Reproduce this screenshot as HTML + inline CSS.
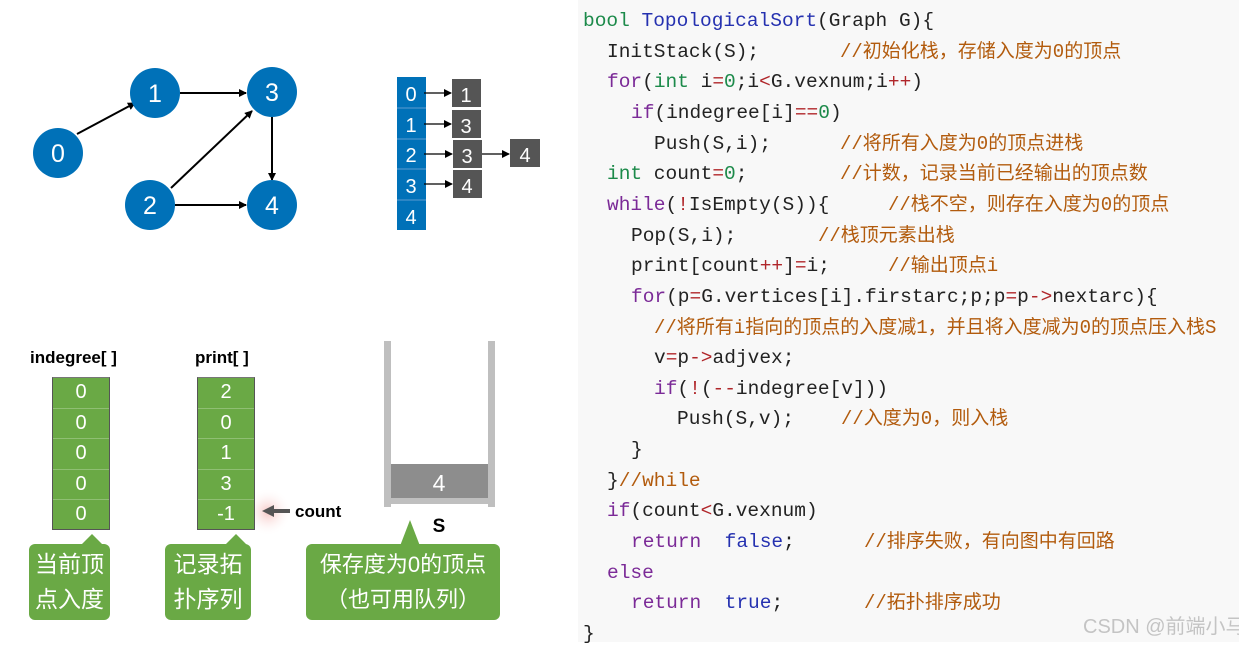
<!DOCTYPE html>
<html><head><meta charset="utf-8"><style>
body{margin:0;width:1239px;height:642px;background:#fff;position:relative;overflow:hidden;font-family:"Liberation Sans","Noto Sans CJK SC",sans-serif}
.code{position:absolute;left:578px;top:0;width:661px;height:642px;background:#f8f8f8}
.l{position:absolute;white-space:pre;font-family:"Liberation Mono","Noto Sans CJK SC",monospace;font-size:19.5px;line-height:22px;color:#222}
.k{color:#7b2a97}.t{color:#1c8a4a}.n{color:#1c8a4a}.o{color:#b0262a}.f{color:#2531b0}.c{color:#b25b0d}
.abs{position:absolute}
.cell{position:absolute;color:#fff;text-align:center;font-size:20px}
.g{background:#6aa945}
.cal{position:absolute;background:#6aa945;border-radius:6px;color:#fff;font-size:23px;text-align:center;line-height:35px}
</style></head><body>
<svg class="abs" style="left:0;top:0" width="578" height="642">
<defs><marker id="a" markerWidth="8" markerHeight="8" refX="7" refY="4" orient="auto" markerUnits="userSpaceOnUse"><path d="M0,0 L8,4 L0,8z" fill="#000"/></marker>
<radialGradient id="gl"><stop offset="0" stop-color="#f4b9b6" stop-opacity=".8"/><stop offset="1" stop-color="#fff" stop-opacity="0"/></radialGradient></defs>
<g stroke="#000" stroke-width="2" marker-end="url(#a)">
<line x1="77" y1="134" x2="135" y2="103"/><line x1="180" y1="93" x2="246" y2="93"/>
<line x1="171" y1="188" x2="252" y2="111"/><line x1="175" y1="205" x2="246" y2="205"/>
<line x1="272" y1="117" x2="272" y2="180"/></g>
<g fill="#0071b8"><circle cx="58" cy="153" r="25"/><circle cx="155" cy="93" r="25"/><circle cx="272" cy="92" r="25"/><circle cx="150" cy="205" r="25"/><circle cx="272" cy="205" r="25"/></g>
<g fill="#fff" font-size="25" font-family="Liberation Sans" text-anchor="middle"><text x="58" y="162">0</text><text x="155" y="102">1</text><text x="272" y="101">3</text><text x="150" y="214">2</text><text x="272" y="214">4</text></g>
<rect x="397" y="77" width="29" height="153" fill="#0071b8"/>
<g stroke="#5b9bd0" stroke-width="1"><line x1="397" y1="108" x2="426" y2="108"/><line x1="397" y1="139" x2="426" y2="139"/><line x1="397" y1="169" x2="426" y2="169"/><line x1="397" y1="200" x2="426" y2="200"/></g>
<g fill="#fff" font-size="20" font-family="Liberation Sans" text-anchor="middle"><text x="411" y="101">0</text><text x="411" y="132">1</text><text x="411" y="162">2</text><text x="411" y="193">3</text><text x="411" y="224">4</text></g>
<g fill="#555"><rect x="452" y="79" width="29" height="28"/><rect x="452" y="110" width="29" height="28"/><rect x="453" y="140" width="29" height="28"/><rect x="453" y="170" width="29" height="28"/><rect x="510" y="139" width="30" height="28"/></g>
<g fill="#fff" font-size="20" font-family="Liberation Sans" text-anchor="middle"><text x="466" y="102">1</text><text x="466" y="133">3</text><text x="467" y="163">3</text><text x="467" y="193">4</text><text x="525" y="162">4</text></g>
<g stroke="#000" stroke-width="1.3" marker-end="url(#a)"><line x1="424" y1="93" x2="451" y2="93"/><line x1="424" y1="124" x2="451" y2="124"/><line x1="424" y1="154" x2="452" y2="154"/><line x1="424" y1="184" x2="452" y2="184"/><line x1="482" y1="154" x2="509" y2="154"/></g>
<circle cx="268" cy="512" r="24" fill="url(#gl)"/>
<line x1="290" y1="511" x2="272" y2="511" stroke="#555" stroke-width="4"/>
<path d="M262,511 L274,505 L274,517z" fill="#555"/>
<g fill="#bfbfbf"><rect x="384" y="341" width="7" height="166"/><rect x="488" y="341" width="7" height="166"/><rect x="391" y="498" width="97" height="6"/></g>
<rect x="391" y="464" width="97" height="34" fill="#8d8d8d"/>
<text x="439" y="491" fill="#fff" font-size="23" text-anchor="middle" font-family="Liberation Sans">4</text>
<text x="439" y="532" font-size="19" font-weight="bold" text-anchor="middle" font-family="Liberation Sans">S</text>
<text x="30" y="363" font-size="17" font-weight="bold" font-family="Liberation Sans">indegree[ ]</text>
<text x="195" y="363" font-size="17" font-weight="bold" font-family="Liberation Sans">print[ ]</text>
<text x="295" y="517" font-size="17" font-weight="bold" font-family="Liberation Sans">count</text>
<g fill="#6aa945"><path d="M80,546 L92,534 L104,546z"/><path d="M224,546 L236,534 L248,546z"/><path d="M400,546 L410,520 L420,546z"/></g>
</svg>
<div class="abs g" style="left:52px;top:377px;width:58px;height:153px;border:1px solid #555;border-top-color:#777;box-sizing:border-box"></div>
<div class="abs g" style="left:197px;top:377px;width:58px;height:153px;border:1px solid #555;border-top-color:#777;box-sizing:border-box"></div>
<div id="cells"></div>
<div class="cal" style="left:29px;top:544px;width:81px;height:76px;padding-top:3px;box-sizing:border-box">当前顶<br>点入度</div>
<div class="cal" style="left:165px;top:544px;width:86px;height:76px;padding-top:3px;box-sizing:border-box">记录拓<br>扑序列</div>
<div class="cal" style="left:306px;top:544px;width:194px;height:76px;padding-top:3px;box-sizing:border-box;font-size:22px">保存度为0的顶点<br>（也可用队列）</div>
<div class="code"></div>
<div id="code"></div>
<script>
(function(){
var h='';var iv=['0','0','0','0','0'],pv=['2','0','1','3','-1'];
for(var i=0;i<5;i++){var y=377+i*30.6;
h+='<div class="cell" style="left:52px;top:'+(y+4)+'px;width:58px">'+iv[i]+'</div>';
h+='<div class="cell" style="left:197px;top:'+(y+4)+'px;width:58px">'+pv[i]+'</div>';
if(i>0){h+='<div class="abs" style="left:53px;top:'+y+'px;width:56px;height:1px;background:#8fbf73"></div><div class="abs" style="left:198px;top:'+y+'px;width:56px;height:1px;background:#8fbf73"></div>';}}
document.getElementById('cells').innerHTML=h;
var L=[
[583,'<span class="t">bool</span> <span class="f">TopologicalSort</span>(Graph G){',0,''],
[607,'InitStack(S);',840,'//初始化栈，存储入度为0的顶点'],
[607,'<span class="k">for</span>(<span class="t">int</span> i<span class="o">=</span><span class="n">0</span>;i<span class="o">&lt;</span>G.vexnum;i<span class="o">++</span>)',0,''],
[631,'<span class="k">if</span>(indegree[i]<span class="o">==</span><span class="n">0</span>)',0,''],
[654,'Push(S,i);',840,'//将所有入度为0的顶点进栈'],
[607,'<span class="t">int</span> count<span class="o">=</span><span class="n">0</span>;',840,'//计数，记录当前已经输出的顶点数'],
[607,'<span class="k">while</span>(<span class="o">!</span>IsEmpty(S)){',888,'//栈不空，则存在入度为0的顶点'],
[631,'Pop(S,i);',818,'//栈顶元素出栈'],
[631,'print[count<span class="o">++</span>]<span class="o">=</span>i;',888,'//输出顶点i'],
[631,'<span class="k">for</span>(p<span class="o">=</span>G.vertices[i].firstarc;p;p<span class="o">=</span>p<span class="o">-&gt;</span>nextarc){',0,''],
[654,'<span class="c" style="font-size:19px">//将所有i指向的顶点的入度减1，并且将入度减为0的顶点压入栈S</span>',0,''],
[654,'v<span class="o">=</span>p<span class="o">-&gt;</span>adjvex;',0,''],
[654,'<span class="k">if</span>(<span class="o">!</span>(<span class="o">--</span>indegree[v]))',0,''],
[677,'Push(S,v);',841,'//入度为0，则入栈'],
[631,'}',0,''],
[607,'}<span class="c">//while</span>',0,''],
[607,'<span class="k">if</span>(count<span class="o">&lt;</span>G.vexnum)',0,''],
[631,'<span class="k">return</span>  <span class="f">false</span>;',864,'//排序失败，有向图中有回路'],
[607,'<span class="k">else</span>',0,''],
[631,'<span class="k">return</span>  <span class="f">true</span>;',864,'//拓扑排序成功'],
[583,'}',0,'']];
var s='';for(var j=0;j<L.length;j++){var ty=20+j*30.65-10;
s+='<div class="l" style="left:'+L[j][0]+'px;top:'+ty+'px">'+L[j][1]+'</div>';
if(L[j][2])s+='<div class="l c" style="left:'+L[j][2]+'px;top:'+ty+'px;font-size:19px">'+L[j][3]+'</div>';}
s+='<div class="abs" style="left:1083px;top:610px;font-size:20px;white-space:nowrap;color:#c4c4c4;font-family:\'Liberation Sans\',\'Noto Sans CJK SC\',sans-serif">CSDN @前端小马</div>';
document.getElementById('code').innerHTML=s;
})();
</script>
</body></html>
